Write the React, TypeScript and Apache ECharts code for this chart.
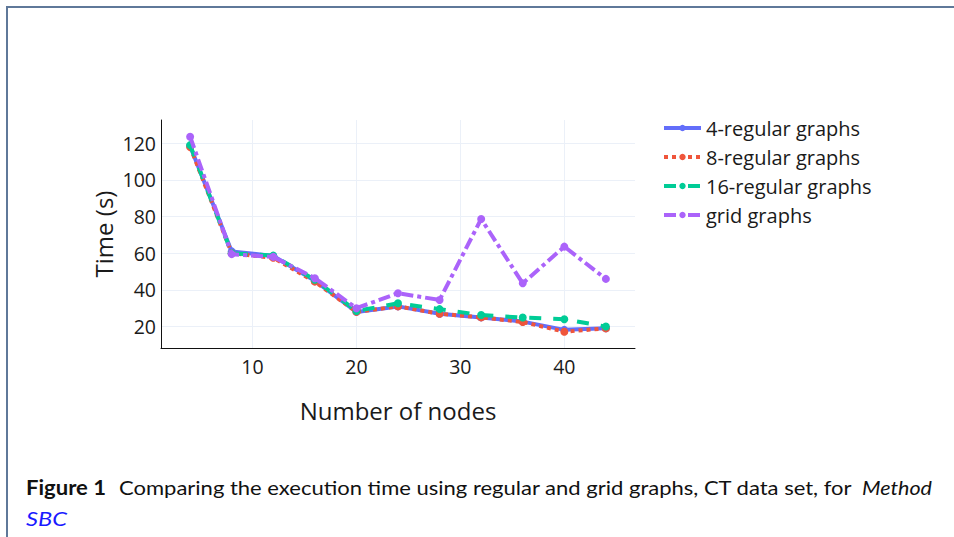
import React, { useEffect, useRef } from "react";
import * as echarts from "echarts";

const nodes = [4, 8, 12, 16, 20, 24, 28, 32, 36, 40, 44];
const regular4 = [118.5, 61, 58.5, 45, 28, 31, 27, 25, 22.7, 18.2, 19.1];
const regular8 = [118, 60, 57.5, 44.5, 28, 31, 27, 25, 22.5, 17.2, 19];
const regular16 = [119, 60, 58.7, 45.5, 28.5, 32.7, 29.5, 26.3, 24.9, 24, 20];
const gridGraphs = [123.6, 59.5, 58, 46.4, 30, 38.2, 34.5, 78.7, 43.6, 63.6, 46];

const seriesNames = ["4-regular graphs", "8-regular graphs", "16-regular graphs", "grid graphs"];
const seriesColors = ["#636efa", "#EF553B", "#00cc96", "#ab63fa"];
const seriesDash: any[] = ["solid", [4, 4], [12, 12], [12, 4, 4, 4]];

const captionBold = "Figure 1";
const captionMain = "Comparing the execution time using regular and grid graphs, CT data set, for";
const captionItalic = "Method";
const captionLink = "SBC";

const FONT = "'Open Sans', 'Noto Sans', sans-serif";
const CAP_FONT = "Lato, 'Open Sans', sans-serif";

function measure(font: string, text: string): number {
  const c = document.createElement("canvas").getContext("2d");
  if (!c) return text.length * 9;
  c.font = font;
  return c.measureText(text).width;
}

export default function App() {
  const ref = useRef<HTMLDivElement>(null);
  useEffect(() => {
    document.body.style.margin = "0";
    if (!ref.current) return;
    const chart = echarts.init(ref.current, undefined, { renderer: "svg" });
    const dataSets = [regular4, regular8, regular16, gridGraphs];

    const capSize = 20;
    const wBold = measure(`bold ${capSize}px Lato`, captionBold);
    const wMain = measure(`${capSize}px Lato`, captionMain);
    const wIt = measure(`italic ${capSize}px Lato`, captionItalic);
    const wLink = measure(`italic ${capSize}px Lato`, captionLink);

    chart.setOption({
      animation: false,
      backgroundColor: "#ffffff",
      grid: { left: 161, top: 120, right: 319, bottom: 189, containLabel: false },
      xAxis: {
        type: "value",
        min: 1.2,
        max: 46.8,
        minInterval: 10,
        maxInterval: 10,
        axisLine: { show: true, lineStyle: { color: "#111", width: 1 } },
        axisTick: { show: false },
        axisLabel: {
          showMinLabel: false,
          showMaxLabel: false,
          margin: 8,
          fontSize: 19.5,
          fontFamily: FONT,
          color: "#1a1a1a",
        },
        splitLine: { show: true, showMinLine: false, showMaxLine: false, lineStyle: { color: "#EBF0F8", width: 1 } },
      },
      yAxis: {
        type: "value",
        min: 8.3,
        max: 132.7,
        minInterval: 20,
        maxInterval: 20,
        axisLine: { show: true, lineStyle: { color: "#111", width: 1 } },
        axisTick: { show: false },
        axisLabel: {
          showMinLabel: false,
          showMaxLabel: false,
          margin: 5,
          fontSize: 19.5,
          fontFamily: FONT,
          color: "#1a1a1a",
        },
        splitLine: { show: true, showMinLine: false, showMaxLine: false, lineStyle: { color: "#EBF0F8", width: 1 } },
      },
      legend: {
        orient: "vertical",
        left: 662,
        top: 118,
        itemWidth: 37,
        itemHeight: 8,
        itemGap: 9,
        padding: 0,
        lineStyle: { width: 4 },
        textStyle: { fontSize: 20, fontFamily: FONT, color: "#1a1a1a", lineHeight: 20 },
        data: seriesNames,
      },
      series: seriesNames.map((name, i) => ({
        name,
        type: "line",
        data: nodes.map((x, j) => [x, dataSets[i][j]]),
        symbol: "circle",
        symbolSize: 8,
        showSymbol: true,
        color: seriesColors[i],
        itemStyle: { color: seriesColors[i] },
        lineStyle: { color: seriesColors[i], width: 4, type: seriesDash[i], cap: "butt" },
        z: 2 + i,
      })),
      graphic: [
        {
          type: "rect",
          shape: { x: 7, y: 7, width: 1000, height: 600 },
          style: { fill: "none", stroke: "#5f7899", lineWidth: 2 },
          silent: true,
        },
        {
          type: "text",
          x: 398,
          y: 410,
          style: { text: "Number of nodes", fontSize: 24, fontFamily: FONT, fill: "#1a1a1a", align: "center", verticalAlign: "middle" },
        },
        {
          type: "text",
          x: 103,
          y: 234,
          rotation: Math.PI / 2,
          style: { text: "Time (s)", fontSize: 24, fontFamily: FONT, fill: "#1a1a1a", align: "center", verticalAlign: "middle" },
        },
        {
          type: "text",
          x: 26,
          y: 487,
          scaleX: 80 / wBold,
          style: { text: captionBold, fontSize: capSize, fontWeight: "bold", fontFamily: CAP_FONT, fill: "#111", align: "left", verticalAlign: "middle" },
        },
        {
          type: "text",
          x: 119,
          y: 487,
          scaleX: 734 / wMain,
          style: { text: captionMain, fontSize: capSize, fontFamily: CAP_FONT, fill: "#111", align: "left", verticalAlign: "middle" },
        },
        {
          type: "text",
          x: 862,
          y: 487,
          scaleX: 70 / wIt,
          style: { text: captionItalic, fontSize: capSize, fontStyle: "italic", fontFamily: CAP_FONT, fill: "#111", align: "left", verticalAlign: "middle" },
        },
        {
          type: "text",
          x: 26,
          y: 518,
          scaleX: 41 / wLink,
          style: { text: captionLink, fontSize: capSize, fontStyle: "italic", fontFamily: CAP_FONT, fill: "#1a1aff", align: "left", verticalAlign: "middle" },
        },
      ],
    });
    return () => chart.dispose();
  }, []);
  return <div ref={ref} style={{ position: "absolute", left: 0, top: 0, width: 954, height: 537 }} />;
}
